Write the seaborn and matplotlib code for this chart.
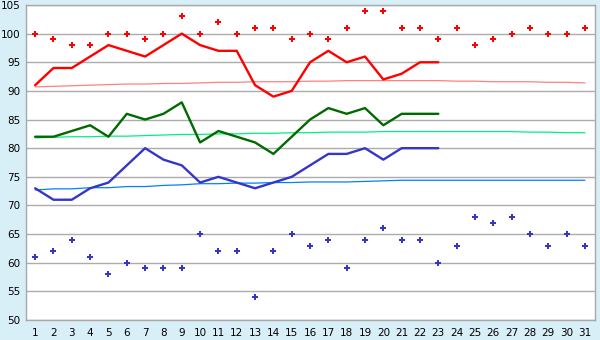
import matplotlib
matplotlib.use("Agg")
import matplotlib.pyplot as plt
import seaborn as sns

days = list(range(1, 32))

# observed daily values (days 1-23)
high = [91, 94, 94, 96, 98, 97, 96, 98, 100, 98, 97, 97, 91, 89, 90, 95, 97, 95, 96, 92, 93, 95, 95]
mean = [82, 82, 83, 84, 82, 86, 85, 86, 88, 81, 83, 82, 81, 79, 82, 85, 87, 86, 87, 84, 86, 86, 86]
low = [73, 71, 71, 73, 74, 77, 80, 78, 77, 74, 75, 74, 73, 74, 75, 77, 79, 79, 80, 78, 80, 80, 80]

# normals
norm_high = [90.7, 90.8, 90.9, 91.0, 91.1, 91.2, 91.2, 91.3, 91.3, 91.4, 91.5, 91.5, 91.6, 91.6, 91.6, 91.7,
             91.7, 91.8, 91.8, 91.8, 91.8, 91.8, 91.8, 91.7, 91.7, 91.6, 91.6, 91.6, 91.5, 91.5, 91.4]
norm_mean = [81.8, 81.9, 82.0, 82.0, 82.1, 82.1, 82.2, 82.3, 82.4, 82.4, 82.5, 82.5, 82.6, 82.6, 82.7, 82.7,
             82.8, 82.8, 82.8, 82.9, 82.9, 82.9, 82.9, 82.9, 82.9, 82.9, 82.9, 82.8, 82.8, 82.7, 82.7]
norm_low = [72.7, 72.9, 72.9, 73.1, 73.1, 73.3, 73.3, 73.5, 73.6, 73.8, 73.8, 73.9, 73.9, 74.0, 74.0, 74.1,
            74.1, 74.1, 74.2, 74.3, 74.4, 74.4, 74.4, 74.4, 74.4, 74.4, 74.4, 74.4, 74.4, 74.4, 74.4]

# records
rec_high = [100, 99, 98, 98, 100, 100, 99, 100, 103, 100, 102, 100, 101, 101, 99, 100,
            99, 101, 104, 104, 101, 101, 99, 101, 98, 99, 100, 101, 100, 100, 101]
rec_low = [61, 62, 64, 61, 58, 60, 59, 59, 59, 65, 62, 62, 54, 62, 65, 63,
           64, 59, 64, 66, 64, 64, 60, 63, 68, 67, 68, 65, 63, 65, 63]

yticks = list(range(50, 106, 5))

sns.set_style("white")
plt.rcParams["font.family"] = ["DejaVu Sans"]

fig = plt.figure(figsize=(6, 3.4), dpi=100, facecolor="#d9eff7")
ax = fig.add_axes([26 / 600, 20 / 340, 569 / 600, 315 / 340])
ax.set_facecolor("white")

for y in yticks:
    ax.axhline(y, color="#acacac", lw=1, zorder=0)

sns.lineplot(x=days, y=norm_high, ax=ax, color="#ff8080", lw=0.9)
sns.lineplot(x=days, y=norm_mean, ax=ax, color="#00f080", lw=0.9)
sns.lineplot(x=days, y=norm_low, ax=ax, color="#0080ff", lw=0.9)

n = len(high)
sns.lineplot(x=days[:n], y=high, ax=ax, color="#ff0000", lw=1.7)
sns.lineplot(x=days[:n], y=mean, ax=ax, color="#006a00", lw=1.7)
sns.lineplot(x=days[:n], y=low, ax=ax, color="#3535c8", lw=1.7)

sns.scatterplot(x=days, y=rec_high, ax=ax, color="#ff0000", marker="P", s=22, linewidth=0)
sns.scatterplot(x=days, y=rec_low, ax=ax, color="#3535c8", marker="P", s=22, linewidth=0)

ax.set_xlim(0.5, 31.55)
ax.set_ylim(50, 105)
ax.set_xticks(days)
ax.set_yticks(yticks)
ax.tick_params(axis="both", labelsize=7.5, length=3, width=1, color="#a8a8a8",
               direction="out", pad=1, labelcolor="black")
ax.tick_params(axis="x", pad=3)
for s in ["left", "bottom", "right", "top"]:
    ax.spines[s].set_color("#a8a8a8")
    ax.spines[s].set_linewidth(1)
ax.set_xlabel("")
ax.set_ylabel("")

fig.savefig("out.png", dpi=100, facecolor=fig.get_facecolor())
